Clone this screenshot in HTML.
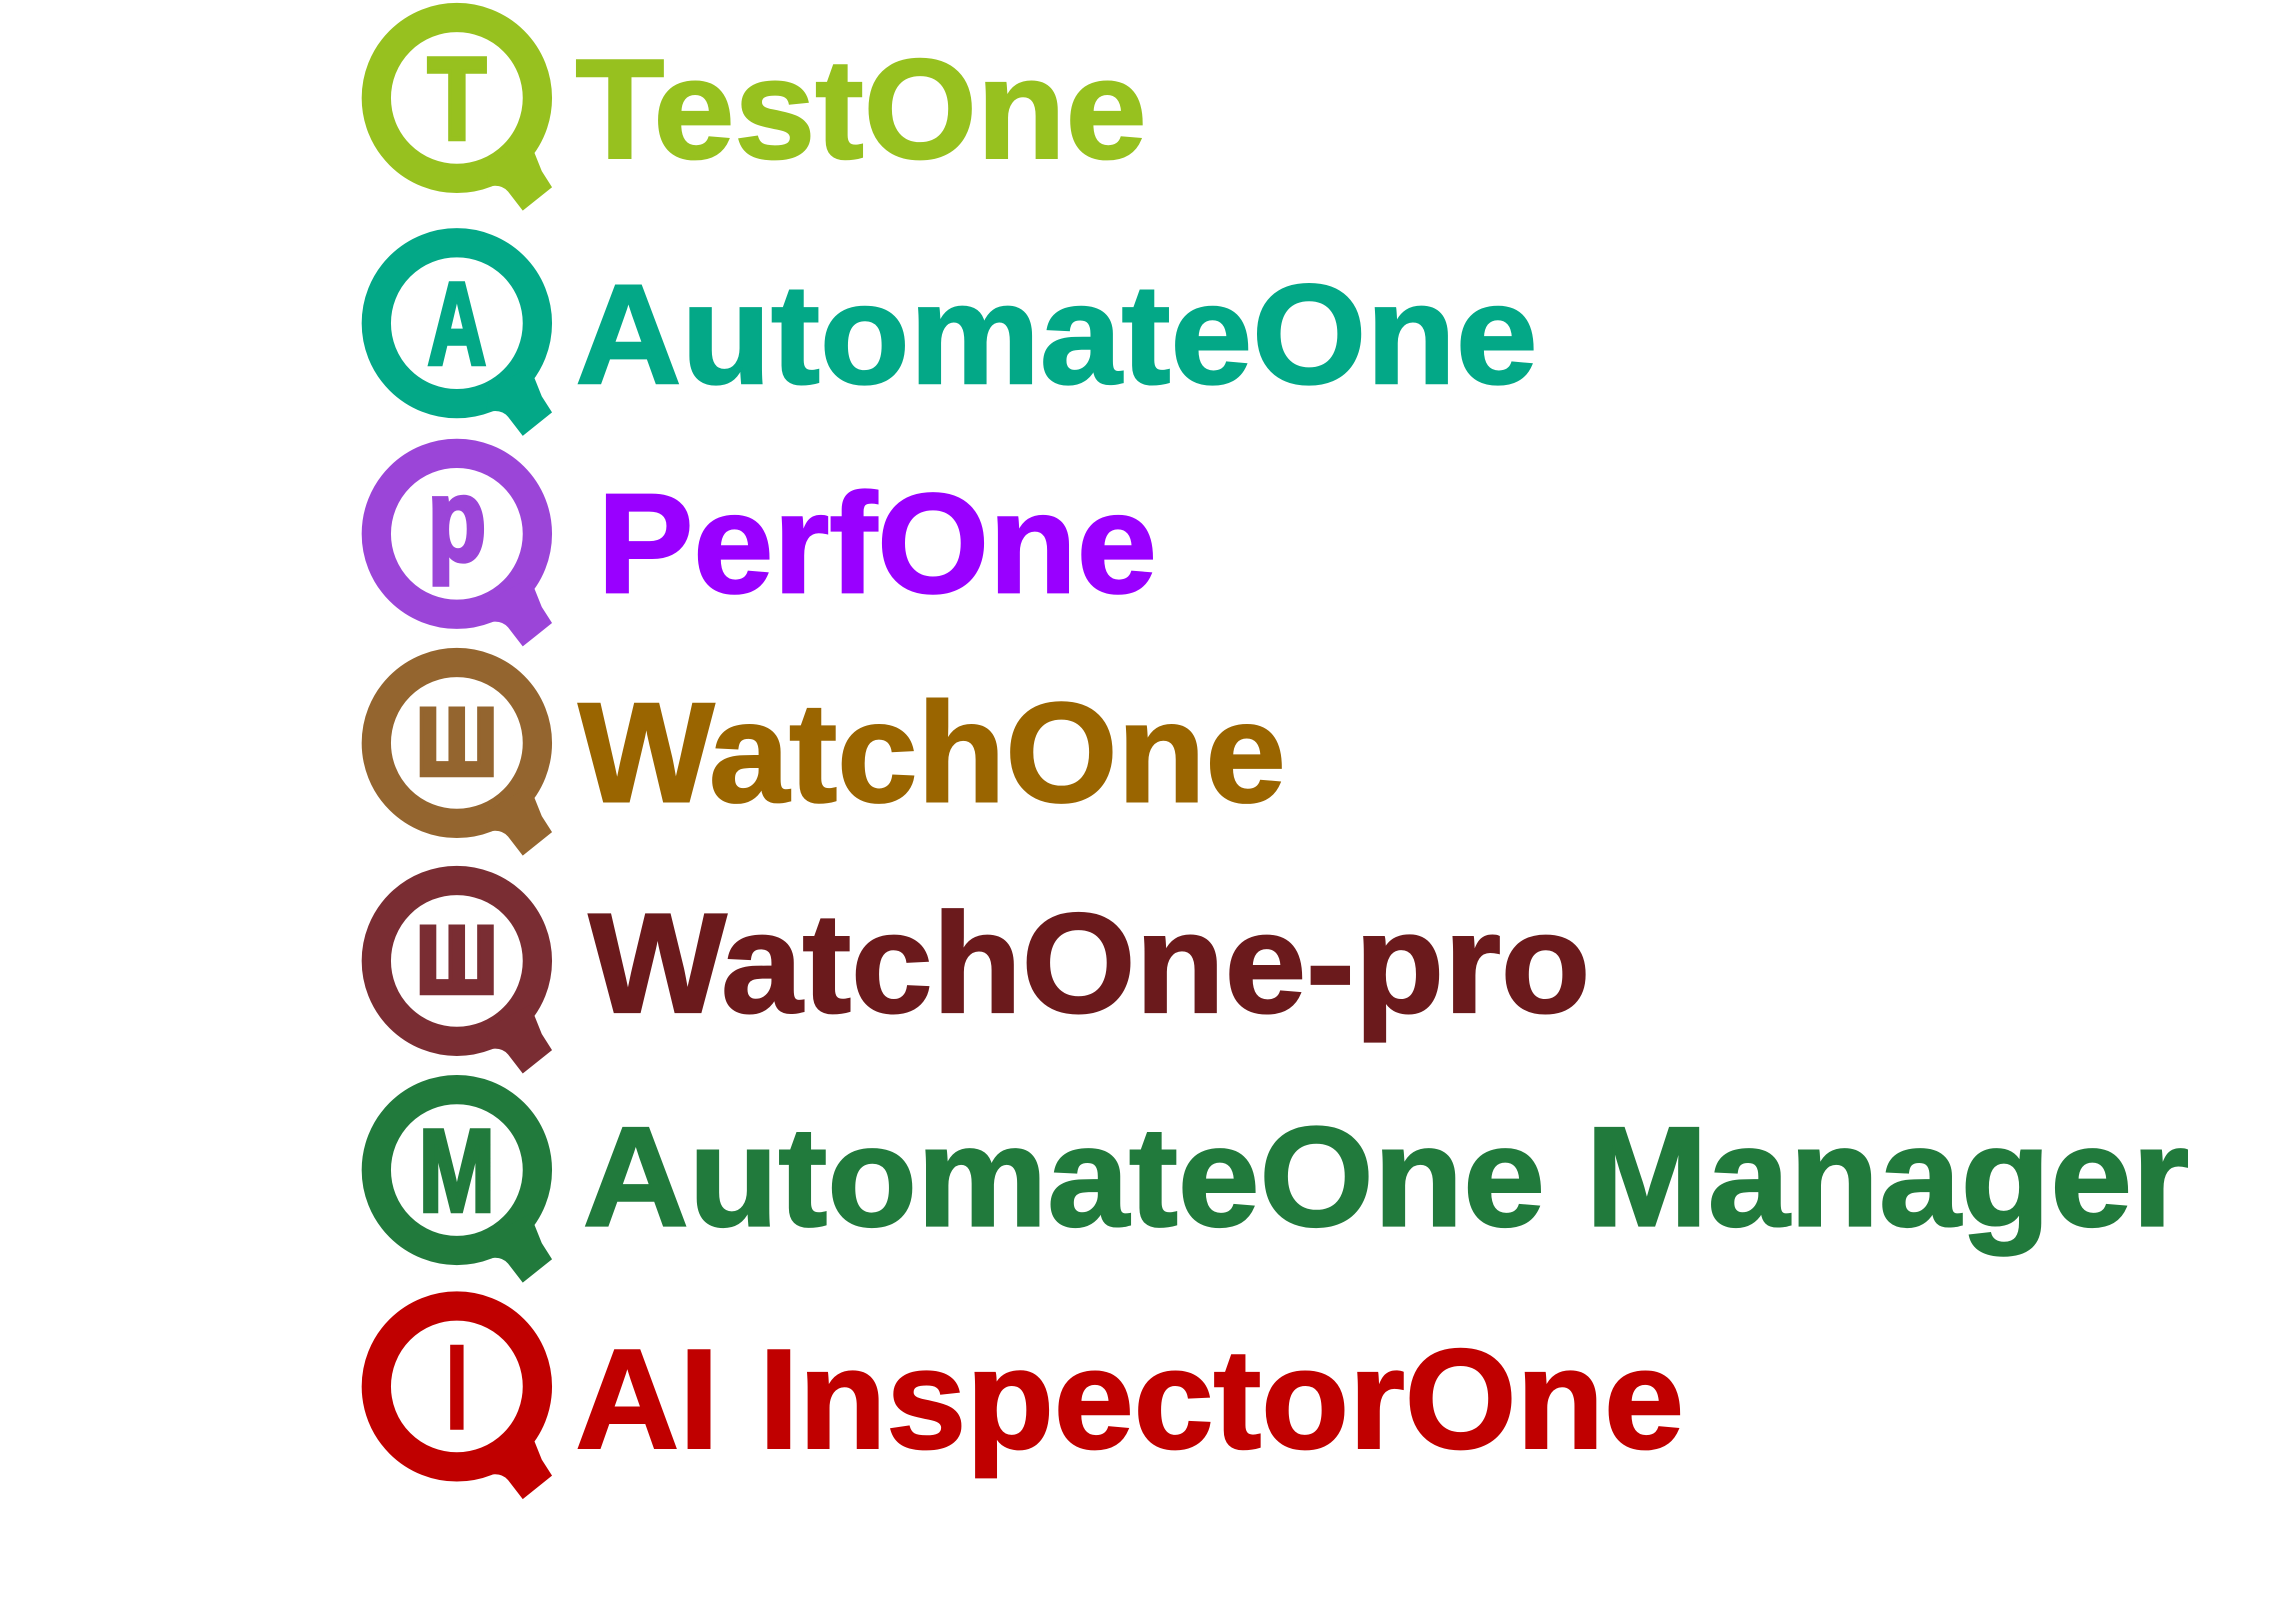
<!DOCTYPE html>
<html><head><meta charset="utf-8"><style>
html,body{margin:0;padding:0;background:#fff;width:2296px;height:1600px;overflow:hidden}
svg{display:block}
text{font-family:"Liberation Sans",sans-serif;font-weight:bold}
</style></head><body>
<svg id="s" width="2296" height="1600" viewBox="0 0 1568 1094" preserveAspectRatio="none" xmlns="http://www.w3.org/2000/svg"></svg>
<script>
const names=["TestOne","AutomateOne","PerfOne","WatchOne","WatchOne-pro","AutomateOne Manager","AI InspectorOne"];
const letters=["T","A","p","ш","ш","M","I"];
const iconColors=["#97c11f","#03a887","#9b45d8","#94652f","#7a2d33","#217a3c","#c00000"];
const textColors=["#97c11f","#03a887","#9900ff","#9a6500","#6b1a1c","#217a3c","#c00000"];
const centersY=[67,221,365,508,657,800,948];
const textX=[393,393,408,395,402,398,393];
const textEnd=[783,1050,790,878,1086,1495,1150];
const ns="http://www.w3.org/2000/svg";
const s=document.getElementById('s');
function mk(t,a){const e=document.createElementNS(ns,t);for(const k in a)e.setAttribute(k,a[k]);return e;}
names.forEach((n,i)=>{
  const cy=centersY[i],cx=312,c=iconColors[i];
  const g=mk('g',{});
  
  
  const ring=mk('circle',{cx:cx,cy:cy,r:55,fill:'none',stroke:c,'stroke-width':20});
  
  
  g.appendChild(ring);
  const tail=mk('path',{d:`M${cx+50} ${cy+30} L${cx+58} ${cy+50} L${cx+65} ${cy+61} L${cx+45} ${cy+77} L${cx+35} ${cy+64} Q${cx+30} ${cy+58} ${cx+20} ${cy+61} L${cx+22} ${cy+45} Z`,fill:c});
  
  
  g.appendChild(tail);
  const isW=letters[i]==='ш', isP=letters[i]==='p';
  const L=mk('text',{x:cx,y:isW?cy+22:(isP?cy+18:cy+28),'text-anchor':'middle','font-size':isW?86:(isP?80:80),fill:c,stroke:c,'stroke-width':3,textLength:isW?58:(letters[i]==='I'?14:(letters[i]==='M'?52:40)),lengthAdjust:'spacingAndGlyphs'});
  L.textContent=letters[i];
  
  
  g.appendChild(L);
  const baseline=[108,262,405,548,692,838,990][i];
  const T=mk('text',{x:textX[i],y:baseline,'font-size':97,fill:textColors[i],stroke:textColors[i],'stroke-width':1.5,textLength:textEnd[i]-textX[i],lengthAdjust:'spacingAndGlyphs'});
  T.textContent=n;
  
  
  g.appendChild(T);
  s.appendChild(g);
});
</script>
</body></html>
